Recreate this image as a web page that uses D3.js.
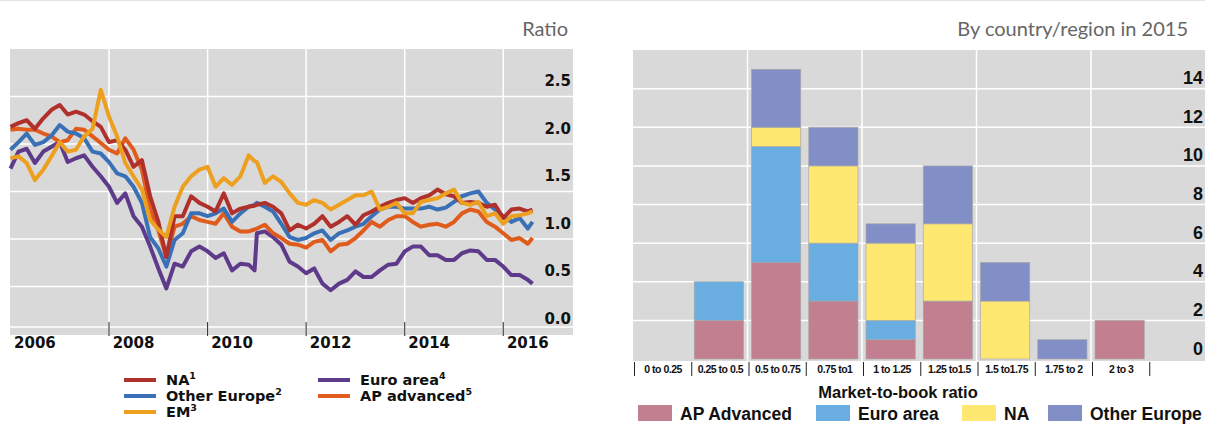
<!DOCTYPE html>
<html>
<head>
<meta charset="utf-8">
<script src="https://cdn.jsdelivr.net/npm/d3@7"></script>
<style>
  body { margin: 0; background: #fff; }
  svg { display: block; }
</style>
</head>
<body>
<div id="viz"></div>
<script>
const w = 1205;
const h = 424;

// left panel: price-to-book ratios, every two months
const dates = [
  '2006-01-01', '2006-03-01', '2006-05-01', '2006-07-01', '2006-09-01', '2006-11-01',
  '2007-01-01', '2007-03-01', '2007-05-01', '2007-07-01', '2007-09-01', '2007-11-01',
  '2008-01-01', '2008-03-01', '2008-05-01', '2008-07-01', '2008-09-01', '2008-11-01',
  '2009-01-01', '2009-03-01', '2009-05-01', '2009-07-01', '2009-09-01', '2009-11-01',
  '2010-01-01', '2010-03-01', '2010-05-01', '2010-07-01', '2010-09-01', '2010-11-01', '2010-12-15',
  '2011-01-01', '2011-03-01', '2011-05-01', '2011-07-01', '2011-09-01', '2011-11-01',
  '2012-01-01', '2012-03-01', '2012-05-01', '2012-07-01', '2012-09-01', '2012-11-01',
  '2013-01-01', '2013-03-01', '2013-05-01', '2013-07-01', '2013-09-01', '2013-11-01',
  '2014-01-01', '2014-03-01', '2014-05-01', '2014-07-01', '2014-09-01', '2014-11-01',
  '2015-01-01', '2015-03-01', '2015-05-01', '2015-07-01', '2015-09-01', '2015-11-01',
  '2016-01-01', '2016-03-01', '2016-05-01', '2016-07-01', '2016-08-05'
];
const na = [
  2.18, 2.22, 2.25, 2.16, 2.27, 2.36,
  2.41, 2.31, 2.34, 2.31, 2.24, 2.18,
  2.02, 2.04, 1.94, 1.76, 1.83, 1.45,
  1.18, 0.81, 1.24, 1.24, 1.45, 1.38,
  1.34, 1.29, 1.48, 1.27, 1.32, 1.34, 1.35,
  1.36, 1.38, 1.34, 1.27, 1.09, 1.15,
  1.11, 1.16, 1.24, 1.13, 1.18, 1.24,
  1.15, 1.25, 1.29, 1.34, 1.38, 1.41,
  1.43, 1.38, 1.43, 1.46, 1.52, 1.47,
  1.45, 1.38, 1.39, 1.38, 1.34, 1.36,
  1.22, 1.31, 1.32, 1.29, 1.31
];
const otherEurope = [
  1.94, 2.02, 2.11, 1.99, 2.02, 2.09,
  2.20, 2.13, 2.11, 2.06, 1.92, 1.90,
  1.81, 1.69, 1.66, 1.55, 1.38, 1.02,
  0.90, 0.71, 0.99, 1.06, 1.27, 1.27,
  1.24, 1.27, 1.32, 1.18, 1.27, 1.34, 1.36,
  1.38, 1.34, 1.29, 1.16, 1.02, 0.99,
  1.01, 1.06, 1.09, 0.99, 1.06, 1.09,
  1.13, 1.16, 1.24, 1.31, 1.34, 1.34,
  1.32, 1.32, 1.32, 1.34, 1.31, 1.33,
  1.39, 1.45, 1.48, 1.50, 1.38, 1.31,
  1.24, 1.18, 1.22, 1.11, 1.18
];
const em = [
  1.85, 1.87, 1.80, 1.62, 1.73, 1.87,
  2.02, 1.92, 1.94, 2.08, 2.16, 2.57,
  2.29, 2.08, 1.80, 1.66, 1.52, 1.20,
  1.10, 1.02, 1.34, 1.55, 1.66, 1.73,
  1.76, 1.55, 1.64, 1.57, 1.66, 1.88, 1.82,
  1.81, 1.59, 1.66, 1.60, 1.48, 1.38,
  1.36, 1.41, 1.38, 1.31, 1.36, 1.41,
  1.46, 1.46, 1.50, 1.31, 1.34, 1.38,
  1.27, 1.27, 1.39, 1.41, 1.43, 1.48,
  1.52, 1.38, 1.36, 1.39, 1.24, 1.27,
  1.16, 1.24, 1.25, 1.27, 1.29
];
const euroArea = [
  1.74, 1.92, 1.95, 1.80, 1.92, 1.97,
  2.02, 1.81, 1.85, 1.88, 1.76, 1.66,
  1.55, 1.38, 1.48, 1.24, 1.13, 0.92,
  0.69, 0.48, 0.74, 0.71, 0.87, 0.92,
  0.87, 0.80, 0.85, 0.67, 0.74, 0.73, 0.67,
  1.06, 1.08, 1.02, 0.94, 0.76, 0.71,
  0.64, 0.69, 0.53, 0.46, 0.53, 0.57,
  0.66, 0.60, 0.60, 0.67, 0.73, 0.74,
  0.87, 0.92, 0.92, 0.83, 0.83, 0.78,
  0.78, 0.85, 0.88, 0.87, 0.78, 0.78,
  0.71, 0.62, 0.62, 0.57, 0.53
];
const apAdvanced = [
  2.15, 2.16, 2.15, 2.15, 2.11, 2.08,
  2.02, 2.04, 2.16, 2.15, 2.08, 2.01,
  1.94, 1.90, 2.06, 1.94, 1.73, 1.31,
  1.09, 0.81, 1.13, 1.16, 1.24, 1.20,
  1.18, 1.16, 1.27, 1.13, 1.08, 1.08, 1.10,
  1.11, 1.15, 1.06, 1.01, 0.95, 0.94,
  0.91, 0.97, 0.99, 0.87, 0.94, 0.95,
  1.01, 1.09, 1.18, 1.13, 1.20, 1.24,
  1.24, 1.18, 1.13, 1.15, 1.16, 1.13,
  1.18, 1.27, 1.31, 1.29, 1.18, 1.13,
  1.06, 0.99, 1.01, 0.95, 1.01
];
const ratioTicks = [0, 0.5, 1, 1.5, 2, 2.5];
const yearLabels = [2006, 2008, 2010, 2012, 2014, 2016];
const gridYears = [2008, 2010, 2012, 2014, 2016];

// right panel: number of banks by market-to-book bucket
const buckets = ['0 to 0.25', '0.25 to 0.5', '0.5 to 0.75', '0.75 to1', '1 to 1.25',
  '1.25 to1.5', '1.5 to1.75', '1.75 to 2', '2 to 3'];
const barAP = [0, 2, 5, 3, 1, 3, 0, 0, 2];
const barEuro = [0, 2, 6, 3, 1, 0, 0, 0, 0];
const barNA = [0, 0, 1, 4, 4, 4, 3, 0, 0];
const barOther = [0, 0, 3, 2, 1, 3, 2, 1, 0];
const countTicks = [0, 2, 4, 6, 8, 10, 12, 14];

const parse = d3.timeParse('%Y-%m-%d');

const svg = d3.select('#viz').append('svg')
  .attr('width', w)
  .attr('height', h)

svg.append('line')
  .attr('x1', 0).attr('x2', w)
  .attr('y1', 0.5).attr('y2', 0.5)
  .attr('stroke', '#e3e3e3')

//////// left chart
const lx = d3.scaleTime()
  .domain([new Date(2006, 0, 1), new Date(2017, 5, 1)])
  .range([10.5, 573])
const ly = d3.scaleLinear()
  .domain([0, 3])
  .range([334, 49])

let left = svg.append('g')

left.append('text')
  .attr('x', 568).attr('y', 36)
  .attr('text-anchor', 'end')
  .attr('font-family', 'Lato, sans-serif')
  .attr('font-size', 20)
  .attr('fill', '#666')
  .text('Ratio')

left.append('rect')
  .attr('x', 10).attr('y', 49)
  .attr('width', 563).attr('height', 286)
  .attr('fill', '#d9d9d9')

left.selectAll('.hgrid')
  .data(ratioTicks.filter(d => d > 0))
  .join('line')
  .attr('x1', 10).attr('x2', 573)
  .attr('y1', d => ly(d)).attr('y2', d => ly(d))
  .attr('stroke', '#fff')
  .attr('stroke-width', 1.5)

left.selectAll('.vgrid')
  .data(gridYears)
  .join('line')
  .attr('x1', d => lx(new Date(d, 0, 1))).attr('x2', d => lx(new Date(d, 0, 1)))
  .attr('y1', 49).attr('y2', 335)
  .attr('stroke', '#fff')
  .attr('stroke-width', 1.5)

left.append('line')
  .attr('x1', 10).attr('x2', 573)
  .attr('y1', 327).attr('y2', 327)
  .attr('stroke', '#fff')
  .attr('stroke-width', 1.5)

left.selectAll('.tick')
  .data(gridYears)
  .join('line')
  .attr('x1', d => lx(new Date(d, 0, 1))).attr('x2', d => lx(new Date(d, 0, 1)))
  .attr('y1', 322).attr('y2', 336)
  .attr('stroke', '#222')
  .attr('stroke-width', 1)

const lineSeries = [
  { name: 'Euro area', sup: '4', values: euroArea, color: '#5e3a8a' },
  { name: 'AP advanced', sup: '5', values: apAdvanced, color: '#e05c1c' },
  { name: 'Other Europe', sup: '2', values: otherEurope, color: '#3a70b5' },
  { name: 'NA', sup: '1', values: na, color: '#b0302c' },
  { name: 'EM', sup: '3', values: em, color: '#eda020' }
];

const line = d3.line()
  .x(d => lx(d.date))
  .y(d => ly(d.v))

left.selectAll('.series')
  .data(lineSeries)
  .join('path')
  .attr('d', s => line(s.values.map((v, i) => ({ date: parse(dates[i]), v: v }))))
  .attr('fill', 'none')
  .attr('stroke', s => s.color)
  .attr('stroke-width', 4)
  .attr('stroke-linejoin', 'round')

left.selectAll('.ylab')
  .data(ratioTicks)
  .join('text')
  .attr('x', 571)
  .attr('y', d => ly(d) - 10.5)
  .attr('text-anchor', 'end')
  .attr('font-family', 'DejaVu Sans, sans-serif')
  .attr('font-weight', 'bold')
  .attr('font-size', 15)
  .attr('fill', '#111')
  .text(d => d3.format('.1f')(d))

left.selectAll('.xlab')
  .data(yearLabels)
  .join('text')
  .attr('x', d => lx(new Date(d, 6, 1)))
  .attr('y', 348)
  .attr('text-anchor', 'middle')
  .attr('font-family', 'DejaVu Sans, sans-serif')
  .attr('font-weight', 'bold')
  .attr('font-size', 15)
  .attr('fill', '#111')
  .text(d => d)

// legend, two columns
const legendPos = {
  'NA': [124, 380], 'Other Europe': [124, 396], 'EM': [124, 412],
  'Euro area': [318, 380], 'AP advanced': [318, 396]
};
let leg = left.selectAll('.leg')
  .data(lineSeries)
  .join('g')
  .attr('transform', s => `translate(${legendPos[s.name][0]},${legendPos[s.name][1]})`)

leg.append('line')
  .attr('x1', 0).attr('x2', 32)
  .attr('stroke', s => s.color)
  .attr('stroke-width', 4)

let legText = leg.append('text')
  .attr('x', 42).attr('y', 5)
  .attr('font-family', 'DejaVu Sans, sans-serif')
  .attr('font-weight', 'bold')
  .attr('font-size', 14.5)
  .attr('fill', '#111')
legText.append('tspan').text(s => s.name)
legText.append('tspan')
  .attr('dy', -6)
  .attr('font-size', 9.5)
  .text(s => s.sup)

//////// right chart
const rx = d3.scaleBand()
  .domain(buckets)
  .range([633, 633 + 57.25 * buckets.length])
  .paddingInner(0.14)
  .paddingOuter(0.07)
const ry = d3.scaleLinear()
  .domain([0, 16])
  .range([359, 50])

let right = svg.append('g')

right.append('text')
  .attr('x', 1188).attr('y', 36)
  .attr('text-anchor', 'end')
  .attr('font-family', 'Lato, sans-serif')
  .attr('font-size', 20)
  .attr('fill', '#666')
  .text('By country/region in 2015')

right.append('rect')
  .attr('x', 633).attr('y', 50)
  .attr('width', w - 633).attr('height', 311)
  .attr('fill', '#d9d9d9')

right.selectAll('.hgrid')
  .data(countTicks.filter(d => d > 0))
  .join('line')
  .attr('x1', 633).attr('x2', w)
  .attr('y1', d => ry(d)).attr('y2', d => ry(d))
  .attr('stroke', '#fff')
  .attr('stroke-width', 1.5)

right.selectAll('.vgrid')
  .data(buckets.filter((d, i) => i % 2 === 0 && i > 0))
  .join('line')
  .attr('x1', d => rx(d) - rx.step() * 0.07).attr('x2', d => rx(d) - rx.step() * 0.07)
  .attr('y1', 50).attr('y2', 361)
  .attr('stroke', '#fff')
  .attr('stroke-width', 1.5)

const barKeys = ['AP Advanced', 'Euro area', 'NA', 'Other Europe'];
const barColors = ['#c27f8f', '#6aade0', '#ffe872', '#828fc6'];
const rows = buckets.map((b, i) => ({
  bucket: b,
  'AP Advanced': barAP[i],
  'Euro area': barEuro[i],
  'NA': barNA[i],
  'Other Europe': barOther[i]
}));
const stacked = d3.stack().keys(barKeys)(rows);

right.selectAll('.layer')
  .data(stacked)
  .join('g')
  .attr('fill', (d, i) => barColors[i])
  .selectAll('rect')
  .data(d => d.filter(p => p[1] > p[0]))
  .join('rect')
  .attr('x', p => rx(p.data.bucket))
  .attr('width', rx.bandwidth())
  .attr('y', p => ry(p[1]))
  .attr('height', p => ry(p[0]) - ry(p[1]))
  .attr('stroke', '#a8a8a8')
  .attr('stroke-width', 0.7)

right.selectAll('.ylab')
  .data(countTicks)
  .join('text')
  .attr('x', 1203)
  .attr('y', d => ry(d) - 4.5)
  .attr('text-anchor', 'end')
  .attr('font-family', 'Liberation Sans, Arial, sans-serif')
  .attr('font-weight', 'bold')
  .attr('font-size', 18)
  .attr('fill', '#111')
  .text(d => d)

// category dividers and labels
right.selectAll('.div')
  .data(d3.range(buckets.length + 1))
  .join('line')
  .attr('x1', i => 633 + i * rx.step() + 1.5).attr('x2', i => 633 + i * rx.step() + 1.5)
  .attr('y1', 362).attr('y2', 376)
  .attr('stroke', '#222')
  .attr('stroke-width', 1)

right.selectAll('.xlab')
  .data(buckets)
  .join('text')
  .attr('x', d => rx(d) + rx.bandwidth() / 2 + 1.5)
  .attr('y', 373)
  .attr('text-anchor', 'middle')
  .attr('font-family', 'Liberation Sans, Arial, sans-serif')
  .attr('font-weight', 'bold')
  .attr('font-size', 10.5)
  .attr('letter-spacing', -0.5)
  .attr('fill', '#111')
  .text(d => d)

right.append('text')
  .attr('x', 898).attr('y', 398)
  .attr('text-anchor', 'middle')
  .attr('font-family', 'Liberation Sans, Arial, sans-serif')
  .attr('font-weight', 'bold')
  .attr('font-size', 16.5)
  .attr('fill', '#111')
  .text('Market-to-book ratio')

const swatchX = [638, 816, 962, 1048];
let rleg = right.selectAll('.rleg')
  .data(barKeys)
  .join('g')
  .attr('transform', (d, i) => `translate(${swatchX[i]},405)`)
rleg.append('rect')
  .attr('width', 34).attr('height', 16)
  .attr('fill', (d, i) => barColors[i])
rleg.append('text')
  .attr('x', 42).attr('y', 15)
  .attr('font-family', 'Liberation Sans, Arial, sans-serif')
  .attr('font-weight', 'bold')
  .attr('font-size', 17.5)
  .attr('fill', '#111')
  .text(d => d)
</script>
</body>
</html>
